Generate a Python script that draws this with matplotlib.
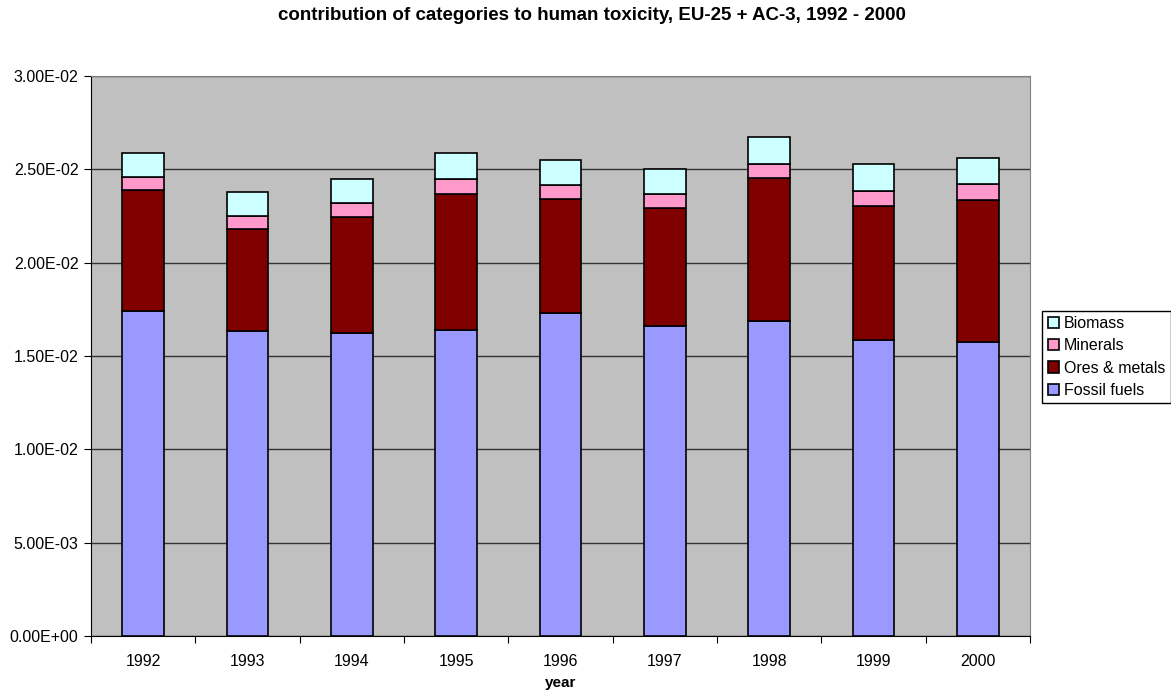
import matplotlib.pyplot as plt
import numpy as np
from matplotlib.ticker import FuncFormatter, FixedLocator, NullFormatter

plt.rcParams['font.family'] = ['Liberation Sans', 'DejaVu Sans']

years = ['1992', '1993', '1994', '1995', '1996', '1997', '1998', '1999', '2000']
fossil_fuels = [0.01742, 0.01633, 0.01624, 0.01640, 0.01731, 0.01660, 0.01688, 0.01586, 0.01577]
ores_metals = [0.00647, 0.00550, 0.00618, 0.00727, 0.00609, 0.00634, 0.00763, 0.00715, 0.00758]
minerals = [0.00069, 0.00069, 0.00077, 0.00082, 0.00077, 0.00075, 0.00080, 0.00082, 0.00084]
biomass = [0.00127, 0.00129, 0.00128, 0.00136, 0.00132, 0.00135, 0.00143, 0.00143, 0.00144]


def main():
    fig = plt.figure(figsize=(11.71, 6.95), dpi=100)
    ax = fig.add_axes([91 / 1171, 1 - 636 / 695, 939 / 1171, 560 / 695])
    ax.set_facecolor('#C0C0C0')

    x = np.arange(len(years))
    series = [('Fossil fuels', fossil_fuels, '#9999FF'),
              ('Ores & metals', ores_metals, '#800000'),
              ('Minerals', minerals, '#FF99CC'),
              ('Biomass', biomass, '#CCFFFF')]
    bottom = np.zeros(len(years))
    handles = []
    for label, vals, color in series:
        b = ax.bar(x, vals, width=0.4, bottom=bottom, color=color,
                   edgecolor='black', linewidth=1.2, label=label, zorder=3)
        handles.append(b)
        bottom += np.array(vals)

    ax.set_xlim(-0.5, len(years) - 0.5)
    ax.set_ylim(0, 0.03)
    ax.set_yticks(np.arange(0, 0.0301, 0.005))
    ax.yaxis.set_major_formatter(FuncFormatter(lambda v, p: '{:.2E}'.format(v)))
    ax.yaxis.grid(True, color='#333333', linewidth=1, zorder=1)
    ax.set_axisbelow(True)

    # Excel style: tick marks between categories, labels centred
    ax.xaxis.set_major_locator(FixedLocator(np.arange(-0.5, len(years), 1.0)))
    ax.xaxis.set_major_formatter(NullFormatter())
    ax.xaxis.set_minor_locator(FixedLocator(x))
    ax.set_xticklabels(years, minor=True)
    ax.tick_params(axis='x', which='minor', length=0, pad=13, labelsize=11.5)
    ax.tick_params(axis='x', which='major', length=5, direction='out')
    ax.tick_params(axis='y', length=5, direction='out', labelsize=11.5, pad=4)

    for side in ['left', 'bottom']:
        ax.spines[side].set_color('black')
    for side in ['top', 'right']:
        ax.spines[side].set_color('#808080')

    ax.set_xlabel('year', fontweight='bold', fontsize=11, labelpad=5)
    fig.text(592 / 1171, 1 - 15 / 695, 'contribution of categories to human toxicity, EU-25 + AC-3, 1992 - 2000',
             ha='center', va='center', fontweight='bold', fontsize=13.5)

    leg = ax.legend(handles[::-1], [s[0] for s in series][::-1],
                    loc='center left', bbox_to_anchor=(1042 / 1171, 1 - 357 / 695),
                    bbox_transform=fig.transFigure, fontsize=11.5,
                    handlelength=0.7, handleheight=0.7, handletextpad=0.3,
                    labelspacing=0.45, borderpad=0.35, borderaxespad=0,
                    fancybox=False, framealpha=1, edgecolor='black')
    leg.get_frame().set_linewidth(1)

    fig.savefig('out.png', dpi=100)


if __name__ == '__main__':
    main()
